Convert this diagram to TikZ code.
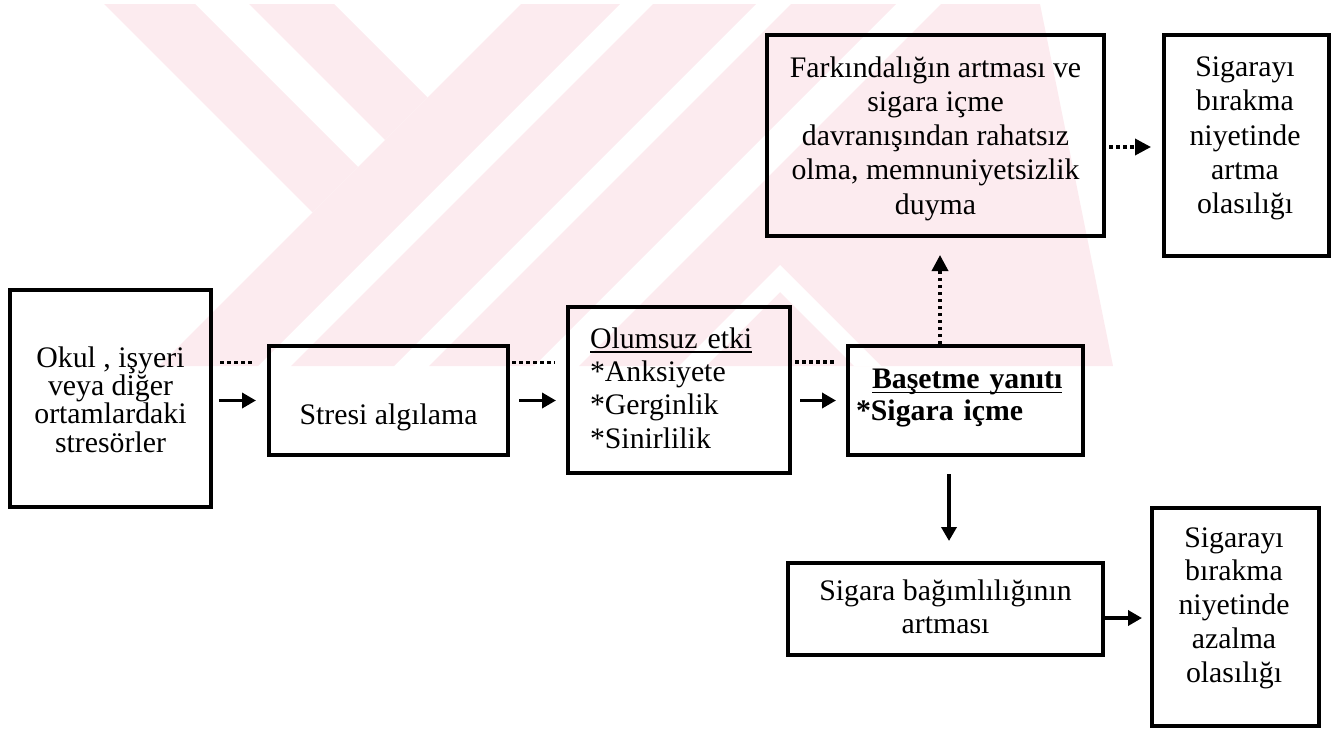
\documentclass[tikz,border=0pt]{standalone}
\usepackage{fontspec}
\setmainfont{Liberation Serif}
\usetikzlibrary{arrows.meta}
\definecolor{markPink}{RGB}{252,235,239}
\newcommand{\ulText}[1]{\leavevmode\setbox0=\hbox{#1}\rlap{\rule[-5pt]{\wd0}{1.8pt}}\box0}
\tikzset{
  boxNode/.style={
    draw=black,
    line width=4pt,
    inner sep=0pt
  },
  boxText/.style={
    inner sep=0pt,
    align=center,
    font=\fontsize{29.8}{34.3}\selectfont
  },
  solidArrow/.style={
    line width=3.5pt,
    -{Triangle[length=14pt, width=15pt]}
  },
  dotArrow/.style={
    line width=3.5pt,
    dash pattern=on 3.5pt off 3.5pt,
    -{Triangle[length=16pt, width=16pt]}
  },
  dotLine/.style={
    line width=3.5pt,
    dash pattern=on 3.5pt off 3.5pt
  }
}

\begin{document}
\begin{tikzpicture}[x=1pt, y=-1pt]
  \useasboundingbox (0,0) rectangle (1343,728);
  % Watermark
  \fill[markPink] (104,4) -- (195,4) -- (358,167) -- (312.5,212.5) -- cycle;
  \fill[markPink] (249,4) -- (334,4) -- (427.5,97.5) -- (385,140) -- cycle;
  \fill[markPink] (521,4) -- (620,4) -- (258,366) -- (159,366) -- cycle;
  \fill[markPink] (653,4) -- (756,4) -- (394,366) -- (291,366) -- cycle;
  \fill[markPink] (791,4) -- (896,4) -- (534,366) -- (429,366) -- cycle;
  \fill[markPink] (941,4) -- (1040,4) -- (1113,366) -- (579,366) -- cycle;
  \fill[white] (679,366) -- (780,265) -- (881,366) -- (854,366) -- (780,292) -- (706,366) -- cycle;

  % Boxes
  \node[boxNode, minimum width=201pt, minimum height=217pt] (stressors) at (110.5,398.5) {};
  \node[boxNode, minimum width=239pt, minimum height=109pt] (perceive) at (388.5,400.5) {};
  \node[boxNode, minimum width=222pt, minimum height=166pt] (negEffect) at (679,390) {};
  \node[boxNode, minimum width=235pt, minimum height=109pt] (coping) at (965.5,400.5) {};
  \node[boxNode, minimum width=337pt, minimum height=201pt] (awareness) at (935.5,135.5) {};
  \node[boxNode, minimum width=165pt, minimum height=221pt] (quitUp) at (1246.5,145.5) {};
  \node[boxNode, minimum width=315pt, minimum height=92pt] (dependence) at (945.5,609) {};
  \node[boxNode, minimum width=167pt, minimum height=218pt] (quitDown) at (1235.5,617) {};

  % Texts
  \node[boxText, font=\fontsize{29.8}{28.3}\selectfont, yshift=-1pt] (stressorsTxt) at (stressors.center)
    {Okul , işyeri\\veya diğer\\ortamlardaki\\stresörler};
  \node[boxText, yshift=-17pt] (perceiveTxt) at (perceive.center) {Stresi algılama};
  \node[boxText, font=\fontsize{29.8}{33.3}\selectfont, text width=178pt, align=left, yshift=2pt] (negEffectTxt) at (negEffect.center)
    {\ulText{Olumsuz etki}\\{}*Anksiyete\\{}*Gerginlik\\{}*Sinirlilik};
  \node[boxText, font=\fontsize{29.8}{32}\selectfont\bfseries, text width=219pt, align=left, yshift=2.5pt] (copingTxt) at (coping.center)
    {\hspace*{16pt}\ulText{Başetme yanıtı}\\{}*Sigara içme};
  \node[boxText, yshift=-3pt] (awarenessTxt) at (awareness.center)
    {Farkındalığın artması ve\\sigara içme\\davranışından rahatsız\\olma, memnuniyetsizlik\\duyma};
  \node[boxText, xshift=-1.5pt, yshift=7pt] (quitUpTxt) at (quitUp.center)
    {Sigarayı\\bırakma\\niyetinde\\artma\\olasılığı};
  \node[boxText, font=\fontsize{29.8}{33}\selectfont, yshift=2.5pt] (dependenceTxt) at (dependence.center)
    {Sigara bağımlılığının\\artması};
  \node[boxText, font=\fontsize{29.8}{33.7}\selectfont, xshift=-1.5pt, yshift=9pt] (quitDownTxt) at (quitDown.center)
    {Sigarayı\\bırakma\\niyetinde\\azalma\\olasılığı};

  % Connectors
  \draw[dotLine, shorten <=7pt, shorten >=14pt] ([yshift=36pt]stressors.east) coordinate (ab) -- (ab -| perceive.west);
  \draw[solidArrow, shorten <=6pt, shorten >=11pt] (stressors.east |- perceive.west) -- (perceive.west);
  \draw[dotLine, shorten <=2pt, shorten >=11pt] ([yshift=38pt]perceive.east) coordinate (bc) -- (bc -| negEffect.west);
  \draw[solidArrow, shorten <=9pt, shorten >=10pt] (perceive.east) -- (perceive.east -| negEffect.west);
  \draw[dotLine, shorten <=3pt, shorten >=10pt] ([yshift=28pt]negEffect.east) coordinate (cd) -- (cd -| coping.west);
  \draw[solidArrow, shorten <=8pt, shorten >=10pt] (negEffect.east |- coping.west) -- (coping.west);
  \draw[dotArrow, shorten >=17pt] ([xshift=-25.5pt]coping.north) coordinate (de) -- (de |- awareness.south);
  \draw[dotArrow, shorten <=3pt, shorten >=11pt] ([yshift=-11.5pt]awareness.east) coordinate (ef) -- (ef -| quitUp.west);
  \draw[solidArrow, shorten <=17pt, shorten >=20pt] ([xshift=-16.5pt]coping.south) coordinate (dg) -- (dg |- dependence.north);
  \draw[solidArrow, shorten >=8pt] ([yshift=-9pt]dependence.east) coordinate (gh) -- (gh -| quitDown.west);
\end{tikzpicture}
\end{document}
